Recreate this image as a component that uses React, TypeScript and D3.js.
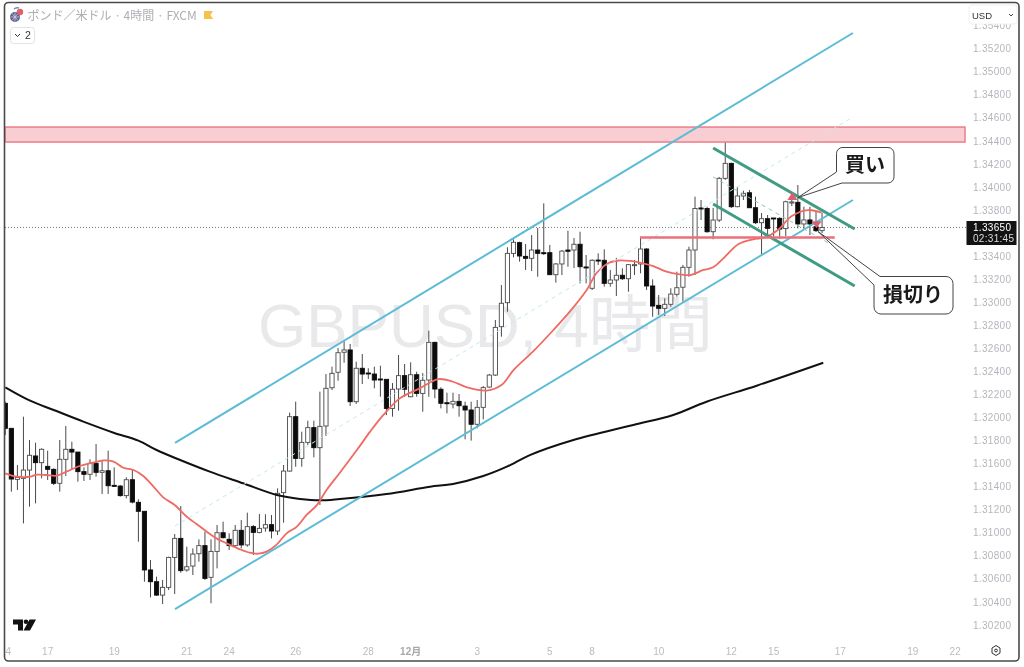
import React from "react";
import * as d3 from "d3";

// GBP/USD 4h candles
const opens = [
  1.32124, 1.31907, 1.31464, 1.31473, 1.31545, 1.31667, 1.31609, 1.31577, 1.31551, 1.3143,
  1.31638, 1.31725, 1.31701, 1.31531, 1.31508, 1.31603, 1.31525, 1.31539, 1.31412, 1.31406,
  1.31323, 1.31461, 1.31265, 1.31187, 1.30678, 1.30576, 1.3046, 1.30527, 1.30787, 1.30952,
  1.30678, 1.30712, 1.30819, 1.30889, 1.30614, 1.30839, 1.31001, 1.30944, 1.30889, 1.31022,
  1.30895, 1.31054, 1.31004, 1.31042, 1.31071, 1.31016, 1.31349, 1.31536, 1.32008, 1.31646,
  1.31785, 1.31913, 1.31739, 1.31927, 1.32259, 1.32393, 1.32567, 1.32587, 1.32138, 1.32428,
  1.32387, 1.32378, 1.32335, 1.32332, 1.3208, 1.32248, 1.32364, 1.32181, 1.32372, 1.3221,
  1.32326, 1.32653, 1.32246, 1.32129, 1.32118, 1.32141, 1.321, 1.32066, 1.31942, 1.32089,
  1.32265, 1.32369, 1.32789, 1.32997, 1.33425, 1.33518, 1.33399, 1.33382, 1.33454, 1.33431,
  1.33431, 1.3324, 1.33333, 1.33454, 1.33454, 1.33504, 1.33307, 1.33122, 1.33367, 1.33365,
  1.33165, 1.33194, 1.33235, 1.33205, 1.33327, 1.33333, 1.33463, 1.33142, 1.32974, 1.32948,
  1.32983, 1.3307, 1.33131, 1.33304, 1.33454, 1.33819, 1.33814, 1.33613, 1.33714, 1.34076,
  1.34206, 1.3383, 1.33923, 1.33951, 1.33821, 1.33691, 1.33726, 1.33732, 1.33729, 1.3364,
  1.33862, 1.33868, 1.3368, 1.33715, 1.33656, 1.33622,
];
const highs = [
  1.32138, 1.31907, 1.31589, 1.32008, 1.31806, 1.31782, 1.31733, 1.31713, 1.3156, 1.31806,
  1.31927, 1.31791, 1.31701, 1.31568, 1.31638, 1.31771, 1.31632, 1.31713, 1.31568, 1.31415,
  1.31482, 1.31551, 1.31291, 1.31187, 1.30764, 1.3062, 1.30591, 1.30793, 1.3099, 1.31233,
  1.3088, 1.30865, 1.30944, 1.3101, 1.30944, 1.31068, 1.31097, 1.30996, 1.31068, 1.31111,
  1.31175, 1.31068, 1.31164, 1.31161, 1.31155, 1.31386, 1.31589, 1.32043, 1.32138, 1.31878,
  1.31973, 1.31973, 1.32225, 1.32378, 1.32442, 1.32604, 1.32673, 1.32639, 1.32485, 1.32552,
  1.32428, 1.32442, 1.3245, 1.32332, 1.323, 1.32543, 1.32465, 1.3248, 1.32398, 1.32386,
  1.32754, 1.32658, 1.32263, 1.32216, 1.32216, 1.32205, 1.32138, 1.32138, 1.32152, 1.32274,
  1.32378, 1.32847, 1.3315, 1.33478, 1.33547, 1.33526, 1.33506, 1.33584, 1.33645, 1.33859,
  1.33498, 1.33341, 1.33454, 1.33622, 1.33558, 1.33613, 1.33411, 1.33374, 1.33425, 1.3346,
  1.33281, 1.33385, 1.33295, 1.33333, 1.33367, 1.33569, 1.33469, 1.332, 1.33064, 1.33035,
  1.33122, 1.33266, 1.33324, 1.33483, 1.33917, 1.33888, 1.3383, 1.33819, 1.34088, 1.34385,
  1.34212, 1.33998, 1.33969, 1.33975, 1.33917, 1.33775, 1.33758, 1.33732, 1.33738, 1.33882,
  1.33957, 1.34018, 1.3383, 1.3383, 1.33786, 1.33778,
];
const lows = [
  1.31849, 1.31357, 1.31372, 1.31082, 1.31227, 1.31256, 1.31473, 1.31459, 1.31415, 1.31357,
  1.31493, 1.31551, 1.31444, 1.3145, 1.31459, 1.31488, 1.31337, 1.31337, 1.314, 1.31314,
  1.31299, 1.31256, 1.30923, 1.30576, 1.3044, 1.30452, 1.30383, 1.30504, 1.30469, 1.30654,
  1.30663, 1.30634, 1.3075, 1.30591, 1.30389, 1.30692, 1.30952, 1.30851, 1.3088, 1.30866,
  1.3088, 1.30808, 1.30996, 1.3101, 1.30952, 1.30981, 1.31088, 1.31531, 1.31574, 1.31574,
  1.31762, 1.31655, 1.31242, 1.3184, 1.32239, 1.3232, 1.32476, 1.32101, 1.32118, 1.32291,
  1.32335, 1.32254, 1.32181, 1.32022, 1.32008, 1.3206, 1.32181, 1.32176, 1.32181, 1.32051,
  1.32181, 1.32168, 1.3208, 1.32037, 1.3208, 1.32008, 1.31812, 1.318, 1.31907, 1.31985,
  1.32259, 1.32361, 1.32702, 1.32919, 1.33391, 1.33353, 1.33281, 1.33272, 1.33222, 1.33411,
  1.33237, 1.33171, 1.33237, 1.33309, 1.33298, 1.33165, 1.33165, 1.33107, 1.33324, 1.33136,
  1.33136, 1.33055, 1.33194, 1.33092, 1.33237, 1.33252, 1.33107, 1.32875, 1.3289, 1.32882,
  1.32962, 1.33049, 1.33006, 1.33222, 1.33237, 1.33714, 1.33604, 1.33547, 1.33697, 1.34062,
  1.33819, 1.33825, 1.33888, 1.33819, 1.3368, 1.33419, 1.33556, 1.33569, 1.3355, 1.33576,
  1.33836, 1.33642, 1.33634, 1.33584, 1.3361, 1.33602,
];
const closes = [
  1.31907, 1.31467, 1.31482, 1.31545, 1.31673, 1.31609, 1.31725, 1.31551, 1.3143, 1.31638,
  1.31725, 1.31701, 1.31531, 1.31508, 1.31603, 1.31525, 1.31539, 1.31409, 1.31406, 1.31323,
  1.31461, 1.31267, 1.31187, 1.30678, 1.30576, 1.3046, 1.30527, 1.30787, 1.30952, 1.30672,
  1.30706, 1.30816, 1.30889, 1.30605, 1.30839, 1.31001, 1.30958, 1.30889, 1.31022, 1.30895,
  1.31054, 1.31004, 1.31039, 1.31071, 1.31016, 1.31343, 1.31536, 1.32008, 1.31646, 1.31785,
  1.31913, 1.31739, 1.31924, 1.32254, 1.32384, 1.32563, 1.32587, 1.32138, 1.32428, 1.32378,
  1.32381, 1.32326, 1.32329, 1.3208, 1.32246, 1.32364, 1.32246, 1.32372, 1.3221, 1.32324,
  1.32653, 1.32248, 1.32124, 1.32124, 1.32141, 1.32103, 1.32066, 1.31942, 1.32089, 1.3226,
  1.32369, 1.32783, 1.32992, 1.33425, 1.33521, 1.33402, 1.33382, 1.33454, 1.33425, 1.33425,
  1.3324, 1.33333, 1.33445, 1.33443, 1.33504, 1.33309, 1.33301, 1.33365, 1.33361, 1.33165,
  1.33194, 1.33235, 1.33205, 1.33327, 1.33327, 1.33463, 1.33142, 1.32968, 1.32948, 1.32983,
  1.33072, 1.33127, 1.33304, 1.33454, 1.33814, 1.3381, 1.33613, 1.33714, 1.34076, 1.34206,
  1.3383, 1.33923, 1.33946, 1.33821, 1.33691, 1.33726, 1.33642, 1.33726, 1.33636, 1.33873,
  1.33871, 1.3368, 1.33715, 1.3368, 1.33622, 1.3365,
];

// short moving average (red), read at chart knots
const emaIdx = [
  0, 1.9, 4.1, 5.2, 6.8, 8.5, 10.1, 12.3, 14.5, 16.2, 17.9, 19.5, 21.2, 22.8, 24.5, 26.1, 28, 30, 31.6,
  33.3, 34.9, 36.6, 38.8, 40.4, 41.8, 43.2, 44.8, 46.5, 48.2, 49.8, 51.5, 53.1, 55.3, 58.2, 60.3, 62.5,
  65.2, 68.5, 71.6, 74, 76.3, 79.6, 82, 84, 87.2, 90.6, 93.3, 96.1, 97.7,
  99.4, 101, 103.2, 105.4, 107.1, 109.3, 111.5, 113.2, 115.4, 117, 118.7, 121.2, 123.6, 125.6, 127.7,
  130, 132.7, 134.9,
];
const emaVal = [
  1.31516, 1.31487, 1.31487, 1.31505, 1.31502, 1.31496, 1.31531, 1.3158, 1.31609, 1.31629, 1.31618,
  1.31565, 1.31545, 1.31493, 1.31401, 1.31308, 1.31241, 1.3114, 1.31077, 1.3101, 1.30952, 1.30909,
  1.30857, 1.30828, 1.30819, 1.30837, 1.30895, 1.30996, 1.31054, 1.31155, 1.31241, 1.31372, 1.31522,
  1.31725, 1.31878, 1.32023, 1.32167, 1.32254, 1.32334, 1.32311, 1.32263, 1.32234, 1.32282, 1.32412,
  1.32572, 1.3276, 1.32919, 1.33107, 1.33252, 1.33333, 1.33361,
  1.33359, 1.33339, 1.33315, 1.33266, 1.33243, 1.33237, 1.33281, 1.33304, 1.33382, 1.33506, 1.33547,
  1.33564, 1.33628, 1.33749, 1.33801, 1.33778,
];

// long moving average (black)
const smaIdx = [
  0, 4.1, 8, 12.9, 17.9, 22, 25, 28.9, 33.8, 39.3, 44.9, 48.7, 52, 55.3, 63, 70.2, 74, 79, 82.9, 86.7,
  93.9, 103.8, 110.4, 115.9, 124.2, 135.2,
];
const smaVal = [
  1.32263, 1.32147, 1.32066, 1.31965, 1.31869, 1.318, 1.31719, 1.31632, 1.31531, 1.3143, 1.31328, 1.31294,
  1.31282, 1.31294, 1.31337, 1.314, 1.31424, 1.31493, 1.31574, 1.31675, 1.31806, 1.31936, 1.32023, 1.32138,
  1.32277, 1.32476,
];

// drawings: [idx, price, idx, price]
const channelSolid = [
  [28.05, 1.3178, 140.1, 1.35337],
  [28.05, 1.30339, 140.1, 1.33888],
];
const channelMid = [28.05, 1.3106, 140.1, 1.34608];
const flagSolid = [
  [117, 1.34339, 140.4, 1.33636],
  [117, 1.33853, 140.4, 1.33142],
];
const flagMid = [117, 1.34088, 140.4, 1.33385];
const zonePrices = [1.34521, 1.34391];
const stopLine = [104.9, 137.1, 1.33563];
const buyMark = [130.1, 1.33923];
const sellMark = [134.1, 1.3367];

const priceTicks = [
  1.354, 1.352, 1.35, 1.348, 1.346, 1.344, 1.342, 1.34, 1.338, 1.334, 1.332, 1.33, 1.328, 1.326, 1.324, 1.322, 1.32,
  1.318, 1.316, 1.314, 1.312, 1.31, 1.308, 1.306, 1.304, 1.302,
];
const timeLabels = ["4", "17", "19", "21", "24", "26", "28", "12月", "3", "5", "8", "10", "12", "15", "17", "19", "22"];
const timeIdx = [0.5, 7, 18, 30, 37, 48, 60, 67, 78, 90, 97, 108, 120, 127, 138, 150, 157];
const lastPrice = 1.3365;

const x = d3.scaleLinear().domain([0, 135]).range([5.3, 822.05]);
const y = d3.scaleLinear().domain([1.344, 1.304]).range([141, 602]);

const maLine = d3
  .line<number>()
  .x((d) => x(d))
  .curve(d3.curveCatmullRom.alpha(0.5));

function pathFor(idx: number[], val: number[]) {
  return maLine.y((_, i) => y(val[i]))(idx) as string;
}

const sans = "'Liberation Sans', Arial, 'Noto Sans CJK JP', sans-serif";
const jp = "'Noto Sans CJK JP', sans-serif";

function Segment({ s, ...rest }: { s: number[] } & React.SVGProps<SVGLineElement>) {
  return <line x1={x(s[0])} y1={y(s[1])} x2={x(s[2])} y2={y(s[3])} {...rest} />;
}

export default function App() {
  const bw = 4.2;
  return (
    <svg width={1024} height={667} style={{ position: "absolute", left: 0, top: 0, display: "block", filter: "blur(0.35px)" }}>
      <defs>
        <clipPath id="plot">
          <rect x={5} y={4} width={961} height={640} />
        </clipPath>
      </defs>
      <rect width={1024} height={667} fill="#fff" />

      <text x={258} y={347} fontFamily={sans} fontSize={62} fill="#e9e9ec">
        GBPUSD, 4時間
      </text>

      <rect x={5} y={y(zonePrices[0])} width={960} height={y(zonePrices[1]) - y(zonePrices[0])} fill="#f8ced3" stroke="#ea7f88" strokeWidth={1.5} />

      <line x1={5} x2={966} y1={y(lastPrice)} y2={y(lastPrice)} stroke="#777" strokeWidth={1} strokeDasharray="1 2" />

      <g clipPath="url(#plot)">
        {opens.map((o, i) => {
          const c = closes[i];
          const up = c >= o;
          const top = y(Math.max(o, c));
          const bot = y(Math.min(o, c));
          return (
            <g key={i}>
              <line x1={x(i)} x2={x(i)} y1={y(highs[i])} y2={y(lows[i])} stroke="#4a4a4a" strokeWidth={1} />
              <rect
                x={x(i) - bw / 2}
                y={top}
                width={bw}
                height={Math.max(bot - top, 1)}
                fill={up ? "#fff" : "#0c0c0c"}
                stroke={up ? "#4a4a4a" : "#0c0c0c"}
                strokeWidth={0.9}
              />
            </g>
          );
        })}
      </g>

      <path d={pathFor(smaIdx, smaVal)} fill="none" stroke="#111" strokeWidth={2} />
      <path d={pathFor(emaIdx, emaVal)} fill="none" stroke="#ef6a62" strokeWidth={1.8} />

      {channelSolid.map((s, i) => (
        <Segment key={i} s={s} stroke="#5cbcd6" strokeWidth={2} />
      ))}
      <Segment s={channelMid} stroke="#c4e8f1" strokeWidth={1} strokeDasharray="4 4" />
      {flagSolid.map((s, i) => (
        <Segment key={i} s={s} stroke="#3f9b82" strokeWidth={3} />
      ))}
      <Segment s={flagMid} stroke="#8cc7b2" strokeWidth={1} strokeDasharray="4 4" />

      <line x1={x(stopLine[0])} x2={x(stopLine[1])} y1={y(stopLine[2])} y2={y(stopLine[2])} stroke="#ee6f7a" strokeWidth={2.4} />

      <path d={`M${x(buyMark[0])},${y(buyMark[1]) - 4}l5,8h-10z`} fill="#dc5f74" />
      <path d={`M${x(sellMark[0])},${y(sellMark[1]) + 3}l5,-7h-10z`} fill="#dc5f74" />

      <path
        d="M842,147.5H888a6,6 0 0 1 6,6V177a6,6 0 0 1 -6,6H842L798,197.5L836.5,172V153.5a6,6 0 0 1 6,-6z"
        fill="#fff"
        stroke="#444"
        strokeWidth={1}
      />
      <text x={865} y={172} textAnchor="middle" fontFamily={jp} fontWeight={700} fontSize={20} fill="#1a1a1a">
        買い
      </text>
      <path
        d="M880,276.5H946a7,7 0 0 1 7,7V307a7,7 0 0 1 -7,7H881a7,7 0 0 1 -7,-7V285L818,231.5z"
        fill="#fff"
        stroke="#444"
        strokeWidth={1}
      />
      <text x={913} y={302} textAnchor="middle" fontFamily={jp} fontWeight={700} fontSize={20} fill="#1a1a1a">
        損切り
      </text>

      {priceTicks.map((t) => (
        <text key={t} x={973} y={y(t) + 3.5} fontFamily={sans} fontSize={10} fill="#b4b6bc" letterSpacing={0.3}>
          {t.toFixed(5)}
        </text>
      ))}
      <rect x={966.5} y={221} width={50} height={24} fill="#131313" />
      <text x={973} y={231} fontFamily={sans} fontSize={10} fill="#fff" letterSpacing={0.3}>
        {lastPrice.toFixed(5)}
      </text>
      <text x={973} y={242} fontFamily={sans} fontSize={10} fill="#ddd" letterSpacing={0.3}>
        02:31:45
      </text>

      {timeLabels.map((t, i) => (
        <text key={i} x={x(timeIdx[i])} y={655} textAnchor="middle" fontFamily={sans} fontSize={10} fill={t === "12月" ? "#a8a8a8" : "#bcbcbc"} fontWeight={t === "12月" ? 700 : 400}>
          {t}
        </text>
      ))}

      {/* header */}
      <circle cx={15} cy={17} r={5} fill="#4f6299" />
      <path d="M10.5,17H19.5M15,12.5V21.5M12,13.5L18,20.5M18,13.5L12,20.5" stroke="#e9c9cf" strokeWidth={0.8} />
      <circle cx={20} cy={12} r={3.2} fill="#e0606a" />
      <path d="M14,9a5,5 0 0 1 5,-1" fill="none" stroke="#5b8fd0" strokeWidth={1.4} />
      <text x={27.5} y={19.5} fontFamily={jp} fontSize={12} fill="#adafb4">
        ポンド／米ドル · 4時間 · FXCM
      </text>
      <path d="M204,11H213L210.5,15L213,19H204z" fill="#f5c24c" />
      <rect x={10.5} y={27.5} width={24} height={16} rx={3} fill="#fff" stroke="#e2e2e2" />
      <path d="M15,34l2.5,2.5l2.5,-2.5" fill="none" stroke="#333" strokeWidth={1} />
      <text x={25} y={39} fontFamily={sans} fontSize={10.5} fill="#333">
        2
      </text>

      {/* USD button */}
      <rect x={969} y={5} width={48} height={19} rx={3} fill="#fff" stroke="#f0f0f0" />
      <text x={972} y={18.5} fontFamily={sans} fontSize={9.5} fill="#333">
        USD
      </text>
      <path d="M1009,14l2,2l2,-2" fill="none" stroke="#444" strokeWidth={1} />

      {/* TV logo */}
      <path d="M13,619.5H23V630.5H18V624.5H13z M29.5,619.5H36L30,630.5H23.5z" fill="#111" />
      <circle cx={26} cy={621.8} r={2.3} fill="#111" />

      {/* settings */}
      <path d="M992,648l4,-2.5l4,2.5v5l-4,2.5l-4,-2.5z" fill="none" stroke="#333" strokeWidth={1} />
      <circle cx={996} cy={650.5} r={1.4} fill="none" stroke="#333" strokeWidth={1} />

      <rect x={4.5} y={2.5} width={1014.5} height={658.5} rx={4} fill="none" stroke="#4a4a4a" strokeWidth={1.6} />
    </svg>
  );
}
